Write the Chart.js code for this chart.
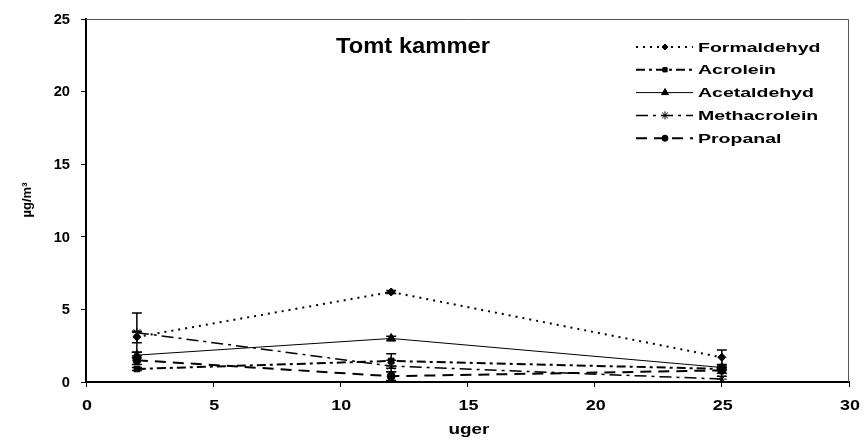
<!DOCTYPE html>
<html>
<head>
<meta charset="utf-8">
<script src="https://cdn.jsdelivr.net/npm/chart.js@4.4.0/dist/chart.umd.min.js"></script>
<style>
  html, body { margin: 0; padding: 0; background: #fff; }
  #wrap { width: 864px; height: 441px; }
</style>
</head>
<body>
<div id="wrap"><canvas id="kammerChart" width="864" height="441"></canvas></div>
<script>
// uger (weeks)
var weeks = [2, 12, 25];
var seriesNames = ['Formaldehyd', 'Acrolein', 'Acetaldehyd', 'Methacrolein', 'Propanal'];
var formaldehyd = [3.1, 6.2, 1.7];
var acrolein = [0.9, 1.45, 0.9];
var acetaldehyd = [1.85, 3.0, 1.0];
var methacrolein = [3.4, 1.1, 0.2];
var propanal = [1.5, 0.4, 0.8];
// standard deviation (error bars)
var formaldehydErr = [0.4, 0.1, 0.5];
var acroleinErr = [0.1, 0.5, 0.1];
var acetaldehydErr = [0.2, 0.15, 0.1];
var methacroleinErr = [1.35, 0.4, 0.2];
var propanalErr = [0.3, 0.3, 0.2];
var yTicks = [0, 5, 10, 15, 20, 25];
var xTicks = [0, 5, 10, 15, 20, 25, 30];
var chartTitle = 'Tomt kammer';
var xTitle = 'uger';
var yTitle = 'µg/m³';

var fontFam = '"Liberation Sans", Arial, sans-serif';

function toPoints(vals) {
    return weeks.map(function (w, i) { return { x: w, y: vals[i] }; });
}

function mkSet(name, vals, errs, dash, style, radius, width) {
    return {
        label: name,
        data: toPoints(vals),
        errors: errs,
        borderColor: '#000',
        backgroundColor: '#000',
        borderWidth: width,
        borderDash: dash,
        pointStyle: style,
        pointRadius: radius,
        pointBorderWidth: 1,
        pointBorderColor: '#000',
        pointBackgroundColor: '#000',
        showLine: true,
        tension: 0,
        fill: false
    };
}

var datasets = [
    mkSet(seriesNames[0], formaldehyd, formaldehydErr, [2, 5], 'rectRot', 4, 2),
    mkSet(seriesNames[1], acrolein, acroleinErr, [9, 4, 3, 4], 'rect', 4, 2),
    mkSet(seriesNames[2], acetaldehyd, acetaldehydErr, [], 'triangle', 5, 1),
    mkSet(seriesNames[3], methacrolein, methacroleinErr, [12, 5, 3, 5], 'star', 5, 1.5),
    mkSet(seriesNames[4], propanal, propanalErr, [11, 7], 'circle', 4, 2)
];

// stretched text, like the original picture
function wideText(ctx, txt, x, y, sx, align) {
    ctx.save();
    ctx.translate(x, y);
    ctx.scale(sx, 1);
    ctx.textAlign = align;
    ctx.fillText(txt, 0, 0);
    ctx.restore();
}

// error bars + frame + labels + title + legend
var extras = {
    id: 'extras',
    afterDatasetsDraw: function (chart) {
        var ctx = chart.ctx;
        var xs = chart.scales.x, ys = chart.scales.y;
        ctx.save();
        ctx.strokeStyle = '#000';
        ctx.lineWidth = 1.5;
        ctx.setLineDash([]);
        chart.data.datasets.forEach(function (ds) {
            ds.data.forEach(function (p, i) {
                var e = ds.errors[i];
                var px = xs.getPixelForValue(p.x);
                var top = ys.getPixelForValue(p.y + e);
                var bot = ys.getPixelForValue(Math.max(0, p.y - e));
                ctx.beginPath();
                ctx.moveTo(px, top); ctx.lineTo(px, bot);
                ctx.moveTo(px - 5, top); ctx.lineTo(px + 5, top);
                ctx.moveTo(px - 5, bot); ctx.lineTo(px + 5, bot);
                ctx.stroke();
            });
        });
        ctx.restore();
    },
    afterDraw: function (chart) {
        var ctx = chart.ctx;
        var a = chart.chartArea;
        var xs = chart.scales.x, ys = chart.scales.y;
        ctx.save();
        // top and right frame
        ctx.strokeStyle = '#555';
        ctx.lineWidth = 1;
        ctx.beginPath();
        ctx.moveTo(a.left, a.top + 0.5);
        ctx.lineTo(a.right - 0.5, a.top + 0.5);
        ctx.lineTo(a.right - 0.5, a.bottom);
        ctx.stroke();

        ctx.fillStyle = '#000';
        ctx.textBaseline = 'middle';

        // tick labels
        ctx.font = 'bold 14px ' + fontFam;
        yTicks.forEach(function (v) {
            wideText(ctx, String(v), 70, ys.getPixelForValue(v) + 1, 1.05, 'right');
        });
        xTicks.forEach(function (v) {
            wideText(ctx, String(v), xs.getPixelForValue(v) + 1, 406, 1.28, 'center');
        });

        // axis titles
        wideText(ctx, xTitle, 469, 430, 1.35, 'center');
        ctx.save();
        ctx.translate(27, 200);
        ctx.rotate(-Math.PI / 2);
        ctx.font = 'bold 13px ' + fontFam;
        ctx.textAlign = 'center';
        ctx.fillText(yTitle, 0, 0);
        ctx.restore();

        // title
        ctx.font = 'bold 22px ' + fontFam;
        wideText(ctx, chartTitle, 413, 47, 1.08, 'center');

        // legend
        ctx.font = 'bold 13px ' + fontFam;
        var lx0 = 636, lx1 = 693, tx = 698, y0 = 47, dy = 22.8;
        chart.data.datasets.forEach(function (ds, i) {
            var y = y0 + i * dy;
            ctx.strokeStyle = '#000';
            ctx.lineWidth = ds.borderWidth;
            ctx.setLineDash(ds.borderDash);
            ctx.beginPath();
            ctx.moveTo(lx0, y); ctx.lineTo(lx1, y);
            ctx.stroke();
            ctx.setLineDash([]);
            ctx.lineWidth = 1;
            Chart.helpers.drawPoint(ctx, {
                pointStyle: ds.pointStyle,
                radius: ds.pointRadius - 1,
                borderWidth: 1,
                rotation: 0
            }, 665, y);
            ctx.fill();
            wideText(ctx, ds.label, tx, y + 1, 1.5, 'left');
        });
        ctx.restore();
    }
};

var kammerCanvas = document.getElementById('kammerChart').getContext('2d');
var kammerChart = new Chart(kammerCanvas, {
    type: 'scatter',
    data: { datasets: datasets },
    options: {
        responsive: false,
        animation: false,
        layout: { padding: { left: 0, top: 19, right: 15, bottom: 0 } },
        plugins: {
            legend: { display: false },
            tooltip: { enabled: false },
            title: { display: false }
        },
        scales: {
            x: {
                type: 'linear',
                min: 0, max: 30,
                afterBuildTicks: function (s) { s.ticks = xTicks.map(function (v) { return { value: v }; }); },
                afterFit: function (s) { s.height = 59; },
                grid: { drawOnChartArea: false, drawTicks: true, tickLength: 5, color: '#000', lineWidth: 1 },
                border: { display: true, color: '#000', width: 2 },
                ticks: { display: false }
            },
            y: {
                min: 0, max: 25,
                afterBuildTicks: function (s) { s.ticks = yTicks.map(function (v) { return { value: v }; }); },
                afterFit: function (s) { s.width = 86; },
                grid: { drawOnChartArea: false, drawTicks: true, tickLength: 5, color: '#000', lineWidth: 1 },
                border: { display: true, color: '#000', width: 2 },
                ticks: { display: false }
            }
        }
    },
    plugins: [extras]
});
</script>
</body>
</html>
